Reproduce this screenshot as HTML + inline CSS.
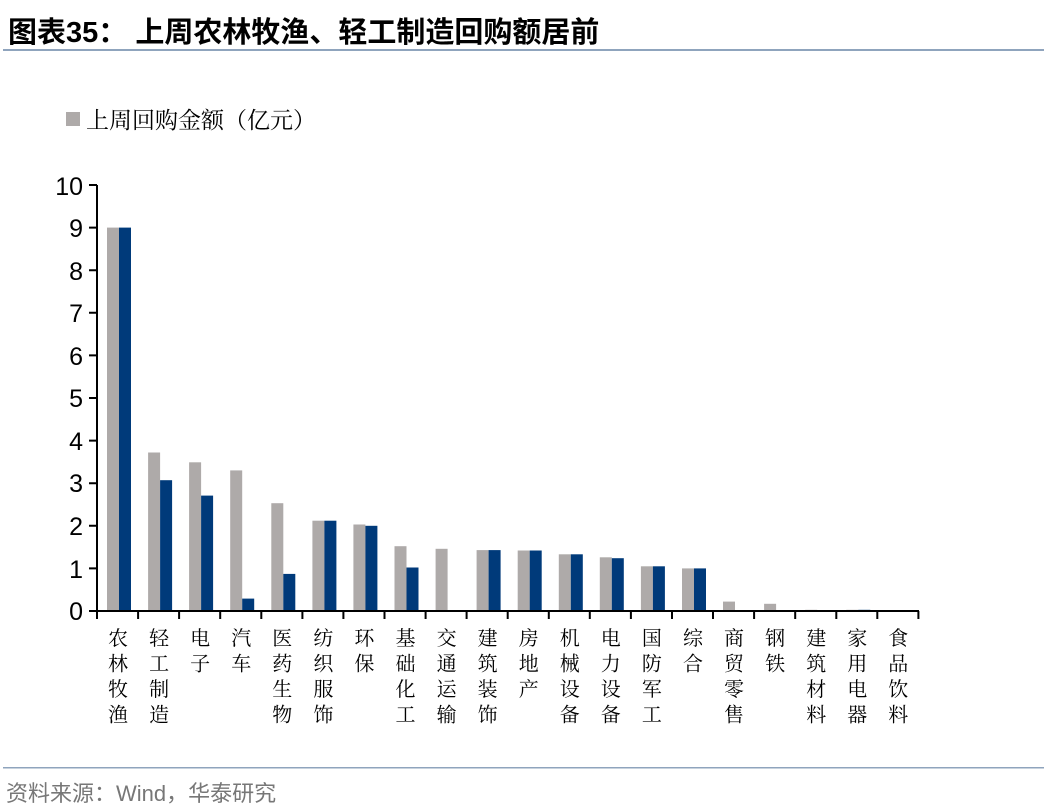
<!DOCTYPE html>
<html><head><meta charset="utf-8"><style>
html,body{margin:0;padding:0;background:#fff;width:1044px;height:812px;overflow:hidden}
</style></head><body>
<svg width="1044" height="812" xmlns="http://www.w3.org/2000/svg">
<text x="8" y="42" font-family="'Liberation Sans','Noto Sans CJK SC',sans-serif" font-weight="bold" font-size="29" fill="#000">图表35：  上周农林牧渔、轻工制造回购额居前</text>
<rect x="3" y="49" width="1041" height="2" fill="#8fa4bd"/>
<rect x="66" y="112" width="14" height="14" fill="#aeaaa9"/>
<text x="86" y="128" font-family="'Liberation Sans','Noto Serif CJK SC',serif" font-size="23" fill="#000">上周回购金额（亿元）</text>
<g font-family="'Liberation Sans',sans-serif" font-size="25" fill="#000" text-anchor="end">
<text x="83" y="620">0</text><text x="83" y="578">1</text><text x="83" y="535">2</text><text x="83" y="492">3</text><text x="83" y="450">4</text><text x="83" y="407">5</text><text x="83" y="365">6</text><text x="83" y="322">7</text><text x="83" y="280">8</text><text x="83" y="237">9</text><text x="83" y="195">10</text>
</g>
<g fill="#aeaaa9">
<rect x="107" y="227.6" width="12" height="383.4"/>
<rect x="148.1" y="452.5" width="12" height="158.5"/>
<rect x="189.1" y="462.3" width="12" height="148.7"/>
<rect x="230.2" y="470.4" width="12" height="140.6"/>
<rect x="271.3" y="503.2" width="12" height="107.8"/>
<rect x="312.4" y="520.7" width="12" height="90.3"/>
<rect x="353.4" y="524.5" width="12" height="86.5"/>
<rect x="394.5" y="546.2" width="12" height="64.8"/>
<rect x="435.6" y="548.8" width="12" height="62.2"/>
<rect x="476.6" y="550.1" width="12" height="60.9"/>
<rect x="517.7" y="550.5" width="12" height="60.5"/>
<rect x="558.8" y="554.3" width="12" height="56.7"/>
<rect x="599.8" y="557.3" width="12" height="53.7"/>
<rect x="640.9" y="566.3" width="12" height="44.7"/>
<rect x="682" y="568.4" width="12" height="42.6"/>
<rect x="723" y="601.6" width="12" height="9.4"/>
<rect x="764.1" y="603.8" width="12" height="7.2"/>
<rect x="805.2" y="609.8" width="12" height="1.2"/>
<rect x="846.3" y="609.8" width="12" height="1.2"/>
</g>
<g fill="#003a7a">
<rect x="119" y="227.6" width="12" height="383.4"/>
<rect x="160.1" y="480.2" width="12" height="130.8"/>
<rect x="201.1" y="495.6" width="12" height="115.4"/>
<rect x="242.2" y="598.6" width="12" height="12.4"/>
<rect x="283.3" y="573.9" width="12" height="37.1"/>
<rect x="324.4" y="520.7" width="12" height="90.3"/>
<rect x="365.4" y="525.8" width="12" height="85.2"/>
<rect x="406.5" y="567.5" width="12" height="43.5"/>
<rect x="488.6" y="550.1" width="12" height="60.9"/>
<rect x="529.7" y="550.5" width="12" height="60.5"/>
<rect x="570.8" y="554.3" width="12" height="56.7"/>
<rect x="611.8" y="558.2" width="12" height="52.8"/>
<rect x="652.9" y="566.3" width="12" height="44.7"/>
<rect x="694" y="568.4" width="12" height="42.6"/>
<rect x="858.3" y="609.8" width="12" height="1.2"/>
</g>
<g stroke="#000" stroke-width="2" fill="none">
<path d="M97 185V611M96 611H919"/>
<path d="M89 611H97M89 568.4H97M89 525.8H97M89 483.2H97M89 440.6H97M89 398H97M89 355.4H97M89 312.8H97M89 270.2H97M89 227.6H97M89 185H97"/>
<path d="M97 611v8M138.1 611v8M179.1 611v8M220.2 611v8M261.3 611v8M302.4 611v8M343.4 611v8M384.5 611v8M425.6 611v8M466.6 611v8M507.7 611v8M548.8 611v8M589.8 611v8M630.9 611v8M672 611v8M713 611v8M754.1 611v8M795.2 611v8M836.3 611v8M877.3 611v8M918.4 611v8"/>
</g>
<g font-family="'Noto Serif CJK SC',serif" font-size="20" fill="#000" text-anchor="middle">
<text x="118" y="645">农</text><text x="118" y="670.5">林</text><text x="118" y="696">牧</text><text x="118" y="721.5">渔</text>
<text x="159.1" y="645">轻</text><text x="159.1" y="670.5">工</text><text x="159.1" y="696">制</text><text x="159.1" y="721.5">造</text>
<text x="200.1" y="645">电</text><text x="200.1" y="670.5">子</text>
<text x="241.2" y="645">汽</text><text x="241.2" y="670.5">车</text>
<text x="282.3" y="645">医</text><text x="282.3" y="670.5">药</text><text x="282.3" y="696">生</text><text x="282.3" y="721.5">物</text>
<text x="323.4" y="645">纺</text><text x="323.4" y="670.5">织</text><text x="323.4" y="696">服</text><text x="323.4" y="721.5">饰</text>
<text x="364.4" y="645">环</text><text x="364.4" y="670.5">保</text>
<text x="405.5" y="645">基</text><text x="405.5" y="670.5">础</text><text x="405.5" y="696">化</text><text x="405.5" y="721.5">工</text>
<text x="446.6" y="645">交</text><text x="446.6" y="670.5">通</text><text x="446.6" y="696">运</text><text x="446.6" y="721.5">输</text>
<text x="487.6" y="645">建</text><text x="487.6" y="670.5">筑</text><text x="487.6" y="696">装</text><text x="487.6" y="721.5">饰</text>
<text x="528.7" y="645">房</text><text x="528.7" y="670.5">地</text><text x="528.7" y="696">产</text>
<text x="569.8" y="645">机</text><text x="569.8" y="670.5">械</text><text x="569.8" y="696">设</text><text x="569.8" y="721.5">备</text>
<text x="610.8" y="645">电</text><text x="610.8" y="670.5">力</text><text x="610.8" y="696">设</text><text x="610.8" y="721.5">备</text>
<text x="651.9" y="645">国</text><text x="651.9" y="670.5">防</text><text x="651.9" y="696">军</text><text x="651.9" y="721.5">工</text>
<text x="693" y="645">综</text><text x="693" y="670.5">合</text>
<text x="734" y="645">商</text><text x="734" y="670.5">贸</text><text x="734" y="696">零</text><text x="734" y="721.5">售</text>
<text x="775.1" y="645">钢</text><text x="775.1" y="670.5">铁</text>
<text x="816.2" y="645">建</text><text x="816.2" y="670.5">筑</text><text x="816.2" y="696">材</text><text x="816.2" y="721.5">料</text>
<text x="857.3" y="645">家</text><text x="857.3" y="670.5">用</text><text x="857.3" y="696">电</text><text x="857.3" y="721.5">器</text>
<text x="898.3" y="645">食</text><text x="898.3" y="670.5">品</text><text x="898.3" y="696">饮</text><text x="898.3" y="721.5">料</text>
</g>
<rect x="3" y="767" width="1041" height="1.5" fill="#8fa4bd"/>
<text x="6" y="801" font-family="'Liberation Sans','Noto Sans CJK SC',sans-serif" font-size="22" fill="#777">资料来源：Wind，华泰研究</text>
</svg>
</body></html>
